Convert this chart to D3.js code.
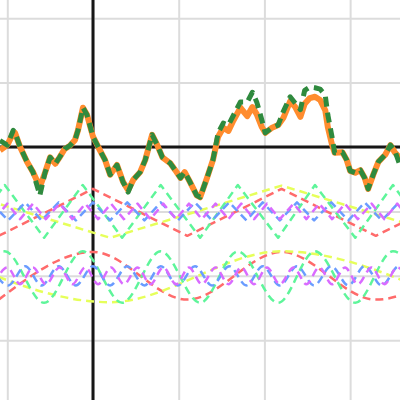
<!DOCTYPE html>
<html><head><meta charset="utf-8">
<script src="https://cdn.jsdelivr.net/npm/d3@7"></script>
<style>html,body{margin:0;padding:0;background:#fff;overflow:hidden}</style>
</head><body>
<svg id="c" width="400" height="400"></svg>
<script>
// ---- data (graph units) ----
const xGrid = [-1, 0, 1, 2, 3];
const yGrid = [-3, -2, -1, 0, 1, 2];

const walkX = [-1.085,-1.00,-0.93,-0.91,-0.85,-0.77,-0.70,-0.62,-0.56,-0.50,-0.44,-0.39,-0.33,-0.27,-0.21,-0.175,-0.117,-0.07,0,0.08,0.14,0.20,0.28,0.35,0.41,0.47,0.55,0.61,0.69,0.75,0.81,0.90,0.96,1.02,1.07,1.13,1.21,1.25,1.33,1.40,1.46,1.52,1.58,1.63,1.72,1.80,1.86,1.91,1.97,2.01,2.09,2.16,2.22,2.30,2.36,2.42,2.47,2.53,2.59,2.65,2.71,2.74,2.79,2.82,2.91,2.96,3.00,3.06,3.12,3.17,3.21,3.27,3.33,3.41,3.47,3.52,3.58];
const orangeY = [-0.05,0.03,0.22,0.22,0.00,-0.23,-0.39,-0.62,-0.40,-0.16,-0.26,-0.16,-0.03,0.02,0.11,0.26,0.61,0.50,0.16,-0.05,-0.20,-0.43,-0.28,-0.54,-0.67,-0.51,-0.39,-0.20,0.19,0.03,-0.16,-0.25,-0.36,-0.48,-0.39,-0.54,-0.75,-0.78,-0.48,-0.20,0.16,0.30,0.25,0.39,0.61,0.48,0.62,0.51,0.31,0.22,0.30,0.34,0.45,0.71,0.62,0.47,0.67,0.76,0.78,0.73,0.57,0.31,0.03,-0.09,-0.08,-0.20,-0.37,-0.40,-0.36,-0.48,-0.65,-0.43,-0.23,-0.12,0.03,-0.08,-0.17];
const greenY = [0.10,0.03,0.26,0.22,0.00,-0.23,-0.39,-0.75,-0.40,-0.16,-0.26,-0.16,-0.03,0.02,0.11,0.26,0.61,0.50,0.16,-0.05,-0.20,-0.43,-0.28,-0.54,-0.70,-0.51,-0.39,-0.20,0.19,0.03,-0.16,-0.25,-0.36,-0.48,-0.39,-0.54,-0.75,-0.78,-0.48,-0.20,0.22,0.37,0.34,0.47,0.70,0.70,0.85,0.70,0.42,0.22,0.30,0.34,0.55,0.78,0.68,0.58,0.88,0.93,0.92,0.90,0.80,0.50,0.15,-0.09,-0.08,-0.20,-0.37,-0.40,-0.36,-0.48,-0.65,-0.43,-0.23,-0.12,0.03,-0.05,-0.28];

const redX = [-1.1, 0, 1.1, 2.2, 3.3, 4.4];
const redTriY = [-1.38,-0.65,-1.38,-0.65,-1.38,-0.65];
const redSinY = [-2.37,-1.63,-2.37,-1.63,-2.37,-1.63];

const yellowX = [-1.8, 0.2, 2.2, 4.2];
const yellowTriY = [-0.60,-1.41,-0.60,-1.41];
const yellowSinY = [-1.62,-2.41,-1.62,-2.41];

const greenX = [-1.48,-1.03,-0.57,-0.12,0.34,0.79,1.25,1.69,2.16,2.59,3.06,3.50,3.95];
const greenTriY = [-1.41,-0.59,-1.41,-0.59,-1.41,-0.59,-1.41,-0.59,-1.41,-0.59,-1.41,-0.59,-1.41];
const greenSinY = [-2.42,-1.62,-2.42,-1.62,-2.42,-1.62,-2.42,-1.62,-2.42,-1.62,-2.42,-1.62,-2.42];

const blueX = [-1.19,-0.99,-0.79,-0.60,-0.40,-0.20,0,0.20,0.40,0.60,0.79,0.99,1.19,1.39,1.59,1.79,1.98,2.18,2.38,2.58,2.78,2.98,3.17,3.37,3.57,3.77];
const blueTriY = [-0.86,-1.14,-0.86,-1.14,-0.86,-1.14,-0.86,-1.14,-0.86,-1.14,-0.86,-1.14,-0.86,-1.14,-0.86,-1.14,-0.86,-1.14,-0.86,-1.14,-0.86,-1.14,-0.86,-1.14,-0.86,-1.14];
const blueSinY = [-1.85,-2.15,-1.85,-2.15,-1.85,-2.15,-1.85,-2.15,-1.85,-2.15,-1.85,-2.15,-1.85,-2.15,-1.85,-2.15,-1.85,-2.15,-1.85,-2.15,-1.85,-2.15,-1.85,-2.15,-1.85,-2.15];

const purpleX = [-1.15,-1.00,-0.85,-0.70,-0.55,-0.39,-0.24,-0.09,0.06,0.21,0.36,0.52,0.67,0.82,0.97,1.12,1.27,1.43,1.58,1.73,1.88,2.03,2.18,2.34,2.49,2.64,2.79,2.94,3.09,3.25,3.40,3.55,3.70];
const purpleTriY = [-1.12,-0.88,-1.12,-0.88,-1.12,-0.88,-1.12,-0.88,-1.12,-0.88,-1.12,-0.88,-1.12,-0.88,-1.12,-0.88,-1.12,-0.88,-1.12,-0.88,-1.12,-0.88,-1.12,-0.88,-1.12,-0.88,-1.12,-0.88,-1.12,-0.88,-1.12,-0.88,-1.12];
const purpleSinY = [-2.13,-1.87,-2.13,-1.87,-2.13,-1.87,-2.13,-1.87,-2.13,-1.87,-2.13,-1.87,-2.13,-1.87,-2.13,-1.87,-2.13,-1.87,-2.13,-1.87,-2.13,-1.87,-2.13,-1.87,-2.13,-1.87,-2.13,-1.87,-2.13,-1.87,-2.13,-1.87,-2.13];

// ---- drawing ----
const W = 400, H = 400;
const svg = d3.select("#c");
const x = d3.scaleLinear().domain([-1.085, 3.582]).range([0, W]);
const y = d3.scaleLinear().domain([2.283, -3.929]).range([0, H]);

svg.append("defs").append("clipPath").attr("id","clip")
  .append("rect").attr("width",W).attr("height",H);

// grid via axes
const gx = svg.append("g").call(d3.axisBottom(x).tickValues(xGrid).tickSize(H).tickFormat(""));
const gy = svg.append("g").call(d3.axisRight(y).tickValues(yGrid).tickSize(W).tickFormat(""));
[gx, gy].forEach(g => {
  g.select(".domain").remove();
  g.selectAll(".tick line").attr("stroke", "#dcdcdc").attr("stroke-width", 2);
});

// main axes
svg.append("line").attr("x1", x(0)).attr("x2", x(0)).attr("y1", 0).attr("y2", H)
  .attr("stroke", "#161616").attr("stroke-width", 3);
svg.append("line").attr("x1", 0).attr("x2", W).attr("y1", y(0)).attr("y2", y(0))
  .attr("stroke", "#161616").attr("stroke-width", 3);

const plot = svg.append("g").attr("clip-path", "url(#clip)");

function draw(xs, ys, color, curve, width, dash) {
  const pts = xs.map((v, i) => [v, ys[i]]);
  const line = d3.line().x(d => x(d[0])).y(d => y(d[1])).curve(curve);
  plot.append("path").attr("d", line(pts)).attr("fill", "none")
    .attr("stroke", color).attr("stroke-width", width)
    .attr("stroke-dasharray", dash).attr("stroke-linejoin", "round");
}

const cRed = "#ff6b6b", cYel = "#e6ff5a", cGrn = "#5ef59a", cBlu = "#6a9cff", cPur = "#d96bff";
const wW = 2.5, wDash = "8,5";

draw(redX, redTriY, cRed, d3.curveLinear, wW, wDash);
draw(yellowX, yellowTriY, cYel, d3.curveLinear, wW, wDash);
draw(greenX, greenTriY, cGrn, d3.curveLinear, wW, wDash);
draw(blueX, blueTriY, cBlu, d3.curveLinear, wW, wDash);
draw(purpleX, purpleTriY, cPur, d3.curveLinear, wW, wDash);

draw(redX, redSinY, cRed, d3.curveMonotoneX, wW, wDash);
draw(yellowX, yellowSinY, cYel, d3.curveMonotoneX, wW, wDash);
draw(greenX, greenSinY, cGrn, d3.curveMonotoneX, wW, wDash);
draw(blueX, blueSinY, cBlu, d3.curveMonotoneX, wW, wDash);
draw(purpleX, purpleSinY, cPur, d3.curveMonotoneX, wW, wDash);

draw(walkX, orangeY, "#ff8c2e", d3.curveLinear, 6, null);
draw(walkX, greenY, "#2f8a3e", d3.curveLinear, 5, "10,6");
</script>
</body></html>
